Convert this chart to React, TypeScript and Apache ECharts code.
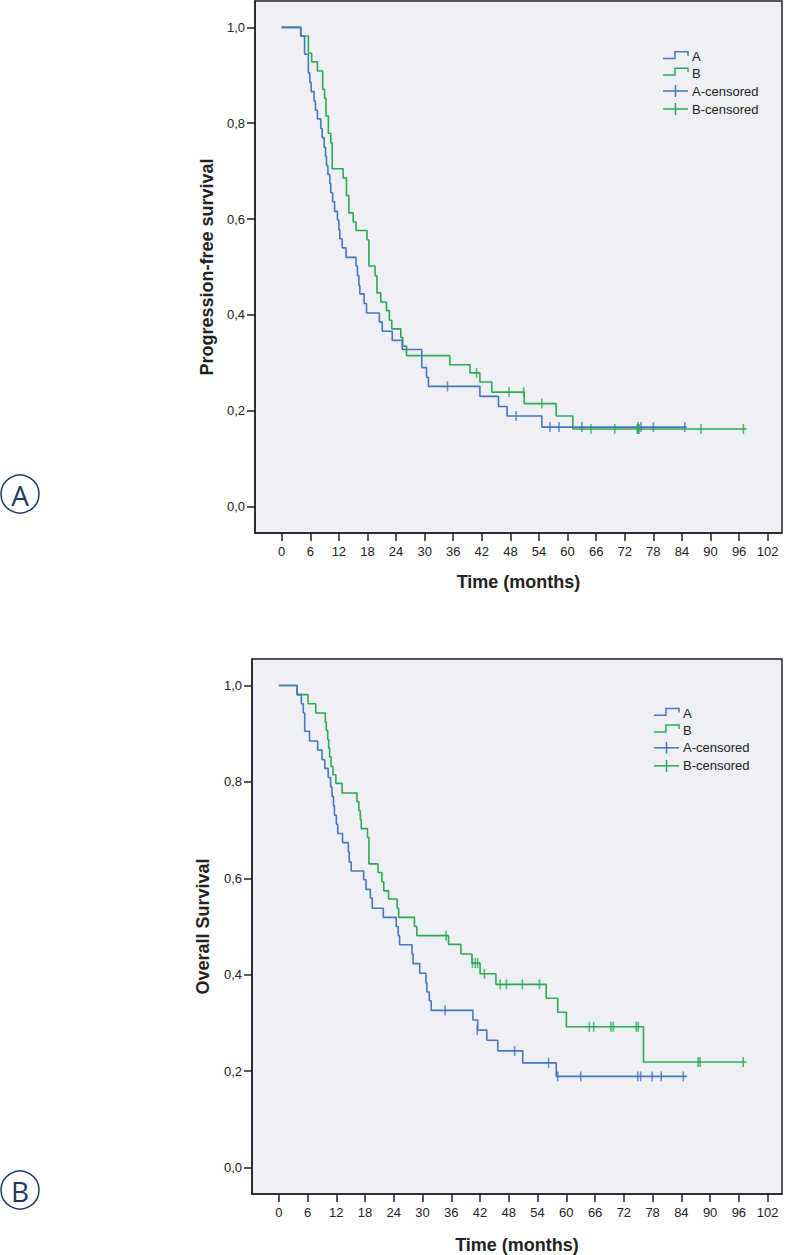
import React, { useEffect, useRef } from "react";
import * as echarts from "echarts";

// ---------- tick values ----------
const xTicks = [0, 6, 12, 18, 24, 30, 36, 42, 48, 54, 60, 66, 72, 78, 84, 90, 96, 102];
const yTicks = [0, 0.2, 0.4, 0.6, 0.8, 1.0];

// ---------- Panel A : progression-free survival ----------
const pfsA_time = [0, 4.0, 4.8, 5.6, 5.9, 6.2, 6.8, 7.1, 7.5, 8.2, 8.5, 8.9, 9.2, 9.4, 9.7, 10.1, 10.3, 10.7, 11.1, 11.7, 12.0, 12.2, 12.7, 13.5, 15.6, 15.9, 16.2, 16.4, 17.3, 17.8, 20.5, 21.1, 23.2, 25.3, 29.4, 30.4, 30.8, 41.6, 45.5, 47.3, 54.6, 85.0];
const pfsA_surv = [1.000, 0.982, 0.944, 0.905, 0.885, 0.866, 0.846, 0.827, 0.809, 0.789, 0.770, 0.750, 0.731, 0.712, 0.693, 0.674, 0.655, 0.636, 0.616, 0.598, 0.578, 0.559, 0.540, 0.520, 0.502, 0.482, 0.462, 0.444, 0.424, 0.404, 0.385, 0.366, 0.347, 0.328, 0.290, 0.270, 0.251, 0.230, 0.209, 0.189, 0.166, 0.166];
const pfsA_censTime = [34.8, 49.2, 56.3, 58.2, 63.0, 74.8, 75.4, 78.0, 84.6];
const pfsA_censSurv = [0.251, 0.189, 0.166, 0.166, 0.166, 0.166, 0.166, 0.166, 0.166];

const pfsB_time = [0, 4.0, 5.6, 6.3, 7.5, 8.6, 9.0, 9.3, 9.8, 10.3, 10.6, 12.9, 13.6, 14.1, 15.0, 15.6, 17.9, 18.3, 19.6, 20.0, 20.8, 22.0, 22.6, 23.1, 25.0, 25.4, 26.2, 35.3, 39.5, 41.6, 44.1, 50.9, 57.6, 61.1, 97.6];
const pfsB_surv = [1.000, 0.982, 0.946, 0.928, 0.909, 0.871, 0.852, 0.815, 0.779, 0.759, 0.705, 0.686, 0.649, 0.613, 0.594, 0.576, 0.557, 0.502, 0.482, 0.446, 0.427, 0.409, 0.389, 0.371, 0.353, 0.335, 0.315, 0.296, 0.279, 0.260, 0.239, 0.215, 0.189, 0.162, 0.162];
const pfsB_censTime = [40.9, 47.7, 50.8, 54.6, 64.9, 69.9, 74.6, 74.8, 75.0, 88.0, 96.9];
const pfsB_censSurv = [0.279, 0.239, 0.239, 0.215, 0.162, 0.162, 0.162, 0.162, 0.162, 0.162, 0.162];

// ---------- Panel B : overall survival ----------
const osA_time = [0, 3.8, 4.7, 5.1, 5.4, 6.4, 8.1, 9.0, 9.6, 10.3, 10.8, 11.1, 11.4, 11.6, 12.0, 12.3, 13.3, 14.5, 14.7, 15.1, 17.7, 18.2, 19.1, 19.5, 21.8, 24.5, 24.9, 25.2, 27.8, 28.0, 29.4, 30.7, 30.9, 31.4, 31.8, 40.5, 41.5, 43.4, 45.7, 50.9, 57.9, 85.2];
const osA_surv = [1.000, 0.981, 0.962, 0.943, 0.905, 0.885, 0.866, 0.846, 0.828, 0.809, 0.790, 0.770, 0.751, 0.731, 0.712, 0.693, 0.674, 0.655, 0.634, 0.615, 0.597, 0.577, 0.559, 0.538, 0.519, 0.500, 0.481, 0.462, 0.443, 0.423, 0.403, 0.383, 0.364, 0.346, 0.326, 0.306, 0.285, 0.264, 0.242, 0.217, 0.189, 0.189];
const osA_censTime = [34.7, 41.4, 49.2, 56.3, 58.2, 63.0, 74.9, 75.5, 77.9, 79.8, 84.4];
const osA_censSurv = [0.326, 0.285, 0.242, 0.217, 0.189, 0.189, 0.189, 0.189, 0.189, 0.189, 0.189];

const osB_time = [0, 3.8, 6.1, 7.7, 9.7, 9.9, 10.2, 10.4, 10.6, 10.9, 11.3, 11.9, 13.2, 16.3, 16.7, 17.0, 17.2, 18.5, 18.8, 20.7, 21.5, 21.9, 22.9, 24.7, 25.0, 28.3, 28.8, 35.4, 38.0, 40.3, 42.0, 45.3, 55.8, 58.2, 60.0, 76.1, 97.6];
const osB_surv = [1.000, 0.981, 0.962, 0.943, 0.924, 0.907, 0.888, 0.870, 0.852, 0.832, 0.815, 0.797, 0.777, 0.759, 0.740, 0.722, 0.703, 0.685, 0.630, 0.612, 0.593, 0.574, 0.557, 0.538, 0.519, 0.500, 0.481, 0.463, 0.443, 0.424, 0.402, 0.380, 0.351, 0.322, 0.292, 0.219, 0.219];
const osB_censTime = [34.9, 40.4, 41.0, 41.5, 42.9, 46.2, 47.5, 50.8, 54.4, 64.8, 65.7, 69.3, 69.8, 74.6, 75.0, 87.5, 87.9, 96.9];
const osB_censSurv = [0.481, 0.424, 0.424, 0.424, 0.402, 0.380, 0.380, 0.380, 0.380, 0.292, 0.292, 0.292, 0.292, 0.292, 0.292, 0.219, 0.219, 0.219];

const legendNames = ["A", "B", "A-censored", "B-censored"];
const yTitles = ["Progression-free survival", "Overall Survival"];
const xTitle = "Time (months)";
const panelLabels = ["A", "B"];

// ---------- styles ----------
const BLUE = "#4677BF";
const GREEN = "#2BAA55";
const NAVY = "#1E3A64";
const INK = "#222";
const FONT = "Liberation Sans";

const zip = (t: number[], s: number[]) => t.map((v, i) => [v, s[i]]);

function stepSeries(name: string, t: number[], s: number[], color: string, idx: number) {
  return {
    name,
    type: "line",
    step: "end",
    xAxisIndex: idx,
    yAxisIndex: idx,
    data: zip(t, s),
    showSymbol: false,
    symbol: "none",
    lineStyle: { color, width: 1.6 },
    itemStyle: { color },
    z: 3,
  };
}

function censSeries(name: string, t: number[], s: number[], color: string, idx: number) {
  return {
    name,
    type: "scatter",
    xAxisIndex: idx,
    yAxisIndex: idx,
    data: zip(t, s),
    symbol: "rect",
    symbolSize: [1.6, 10],
    itemStyle: { color },
    z: 4,
  };
}

function xAxisCfg(idx: number, gap: number) {
  return {
    type: "value",
    gridIndex: idx,
    min: -5.6,
    max: 105,
    axisLine: { show: true, onZero: false, lineStyle: { color: INK, width: 1.5 } },
    axisTick: { show: true, length: 8, customValues: xTicks, lineStyle: { color: INK, width: 1.5 } },
    axisLabel: { customValues: xTicks, fontSize: 13, color: INK, fontFamily: FONT, margin: 12 },
    splitLine: { show: false },
    name: xTitle,
    nameLocation: "middle",
    nameGap: gap,
    nameTextStyle: { fontSize: 18, fontWeight: "bold", color: INK, fontFamily: FONT },
  };
}

function yAxisCfg(idx: number, title: string, gap: number) {
  return {
    type: "value",
    gridIndex: idx,
    min: -0.055,
    max: 1.055,
    axisLine: { show: true, onZero: false, lineStyle: { color: INK, width: 1.5 } },
    axisTick: { show: true, length: 8, customValues: yTicks, lineStyle: { color: INK, width: 1.5 } },
    axisLabel: {
      customValues: yTicks,
      fontSize: 13,
      color: INK,
      fontFamily: FONT,
      margin: 10,
      formatter: (v: number) => v.toFixed(1).replace(".", ","),
    },
    splitLine: { show: false },
    name: title,
    nameLocation: "middle",
    nameGap: gap,
    nameTextStyle: { fontSize: 18, fontWeight: "bold", color: INK, fontFamily: FONT },
  };
}

function legendGraphics(x0: number, y0: number) {
  const colors = [BLUE, GREEN, BLUE, GREEN];
  const rowY = [0, 16.6, 34.3, 52.3];
  const els: any[] = [];
  legendNames.forEach((name, i) => {
    const y = y0 + rowY[i];
    const c = colors[i];
    if (i < 2) {
      els.push({
        type: "polyline",
        shape: { points: [[x0, y + 1.8], [x0 + 12, y + 1.8], [x0 + 12, y - 5], [x0 + 25, y - 5], [x0 + 25, y - 1]] },
        style: { stroke: c, lineWidth: 1.5, fill: null },
      });
    } else {
      els.push({ type: "line", shape: { x1: x0, y1: y, x2: x0 + 25, y2: y }, style: { stroke: c, lineWidth: 1.5 } });
      els.push({ type: "line", shape: { x1: x0 + 12.5, y1: y - 6, x2: x0 + 12.5, y2: y + 6 }, style: { stroke: c, lineWidth: 1.5 } });
    }
    els.push({
      type: "text",
      x: x0 + 29,
      y,
      style: { text: name, fontSize: 13, fontFamily: FONT, fill: INK, align: "left", verticalAlign: "middle" },
    });
  });
  return els;
}

function panelCircle(cx: number, cy: number, label: string) {
  return [
    { type: "circle", shape: { cx, cy, r: 19 }, style: { fill: "#fff", stroke: NAVY, lineWidth: 1.5 } },
    {
      type: "text",
      x: cx,
      y: cy + 1,
      style: { text: label, fontSize: 28, fontFamily: "Open Sans", fill: NAVY, align: "center", verticalAlign: "middle" },
    },
  ];
}

export default function App() {
  const ref = useRef<HTMLDivElement>(null);
  useEffect(() => {
    if (!ref.current) return;
    const chart = echarts.init(ref.current, null, { renderer: "svg" });
    chart.setOption({
      animation: false,
      backgroundColor: "#ffffff",
      grid: [
        { left: 255, top: 1, width: 527, height: 532, show: true, backgroundColor: "#EEF0F5", borderColor: INK, borderWidth: 1.5 },
        { left: 252, top: 659, width: 530, height: 535, show: true, backgroundColor: "#EEF0F5", borderColor: INK, borderWidth: 1.5 },
      ],
      xAxis: [xAxisCfg(0, 40), xAxisCfg(1, 42)],
      yAxis: [yAxisCfg(0, yTitles[0], 38), yAxisCfg(1, yTitles[1], 40)],
      series: [
        stepSeries("B", pfsB_time, pfsB_surv, GREEN, 0),
        stepSeries("A", pfsA_time, pfsA_surv, BLUE, 0),
        censSeries("A-censored", pfsA_censTime, pfsA_censSurv, BLUE, 0),
        censSeries("B-censored", pfsB_censTime, pfsB_censSurv, GREEN, 0),
        stepSeries("B", osB_time, osB_surv, GREEN, 1),
        stepSeries("A", osA_time, osA_surv, BLUE, 1),
        censSeries("A-censored", osA_censTime, osA_censSurv, BLUE, 1),
        censSeries("B-censored", osB_censTime, osB_censSurv, GREEN, 1),
      ],
      graphic: [
        ...legendGraphics(663, 56.7),
        ...legendGraphics(654, 713.5),
        ...panelCircle(20, 494, panelLabels[0]),
        ...panelCircle(20, 1190, panelLabels[1]),
      ],
    });
    return () => chart.dispose();
  }, []);
  return <div ref={ref} style={{ position: "absolute", left: 0, top: 0, width: 786, height: 1255 }} />;
}
